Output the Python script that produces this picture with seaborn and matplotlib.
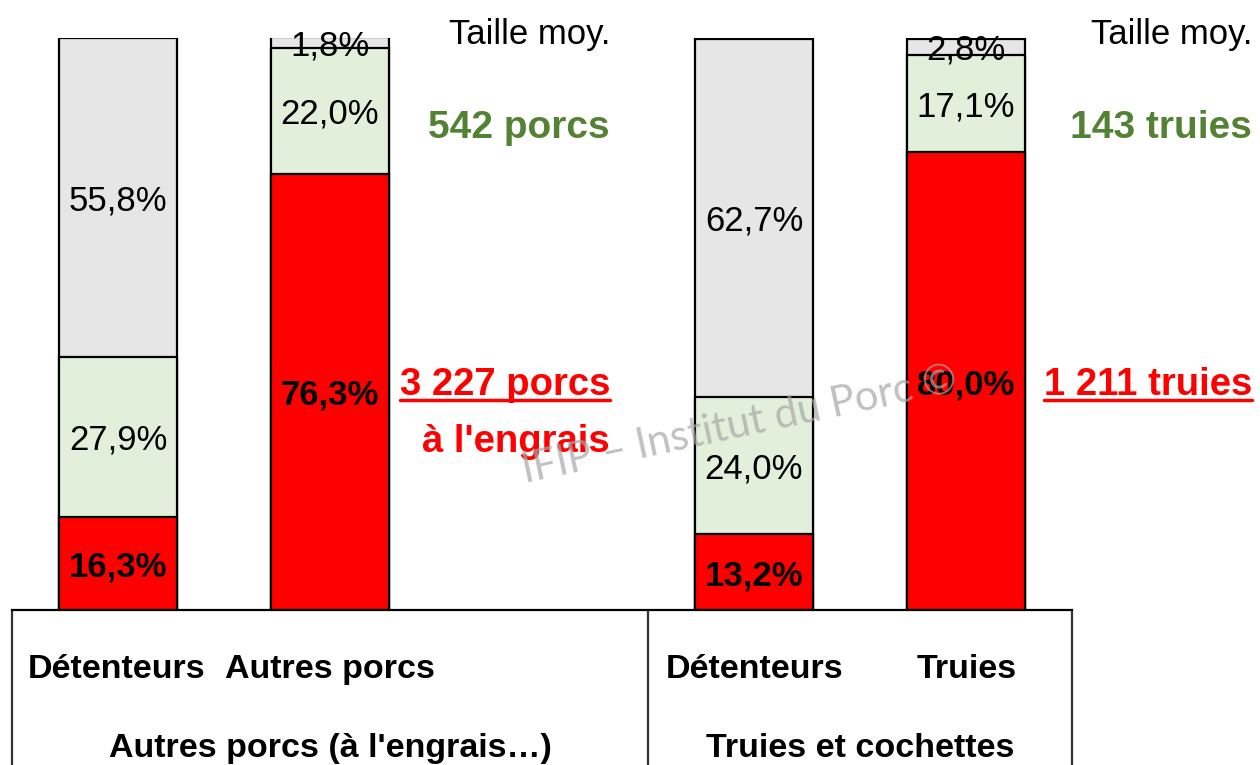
import seaborn as sns
from matplotlib import pyplot as plt
from matplotlib.lines import Line2D
import pandas as pd
import numpy as np

# data
categories = ["Détenteurs", "Autres porcs", "Détenteurs", "Truies"]
groups = ["Autres porcs (à l'engrais…)", "Truies et cochettes"]
positions = [0, 1, 3, 4]
red_share = [16.3, 76.3, 13.2, 80.0]
green_share = [27.9, 22.0, 24.0, 17.1]
grey_share = [55.8, 1.8, 62.7, 2.8]

avg_label = "Taille moy."
avg_size = ["542 porcs", "143 truies"]
total_size = ["3 227 porcs\nà l'engrais", "1 211 truies"]

RED = "#FF0000"
GREEN = "#E2EFDA"
GREY = "#E6E6E6"
TXT_GREEN = "#548235"


def fmt(v):
    return f"{v:.1f}%".replace(".", ",")


def main():
    sns.set_theme(style="white")
    plt.rcParams["font.family"] = ["Liberation Sans", "DejaVu Sans"]
    plt.rcParams["text.color"] = "black"

    fig = plt.figure(figsize=(12.6, 7.65), dpi=100)
    ax = fig.add_axes([12 / 1260, 155 / 765, 1060 / 1260, 572 / 765])

    df = pd.DataFrame({"pos": positions, "red": red_share, "green": green_share, "grey": grey_share})
    df["top_green"] = df["red"] + df["green"]
    df["top_grey"] = df["top_green"] + df["grey"]

    # stacked bars drawn back to front
    for col, colr in [("top_grey", GREY), ("top_green", GREEN), ("red", RED)]:
        sns.barplot(data=df, x="pos", y=col, native_scale=True, color=colr, saturation=1,
                    edgecolor="black", linewidth=1.6, width=0.555, errorbar=None, ax=ax)

    ax.set_xlim(-0.5, 4.5)
    ax.set_ylim(0, 100)
    ax.set_xlabel("")
    ax.set_ylabel("")
    ax.set_xticks([])
    ax.set_yticks([])
    for s in ["top", "right", "left"]:
        ax.spines[s].set_visible(False)
    ax.spines["bottom"].set_color("black")
    ax.spines["bottom"].set_linewidth(1.6)

    # segment labels
    fs = 25
    for i, p in enumerate(positions):
        r, g, gr = red_share[i], green_share[i], grey_share[i]
        ax.text(p, r / 2, fmt(r), ha="center", va="center_baseline", fontsize=fs, fontweight="bold")
        ax.text(p, r + g / 2, fmt(g), ha="center", va="center_baseline", fontsize=fs)
        ax.text(p, r + g + gr / 2, fmt(gr), ha="center", va="center_baseline", fontsize=fs)

    # category table below
    trans = ax.get_xaxis_transform()
    for xv in [-0.5, 2.5, 4.5]:
        ax.add_line(Line2D([xv, xv], [0, -0.3], transform=trans, color="#333333",
                           linewidth=1.6, clip_on=False))
    for p, c in zip(positions, categories):
        fig.text((117 + p * 212.5) / 1260, 1 - 678 / 765, c, ha="center", va="baseline",
                 fontsize=24.5, fontweight="bold")
    fig.text(330 / 1260, 1 - 757 / 765, groups[0], ha="center", va="baseline",
             fontsize=24.5, fontweight="bold")
    fig.text(860 / 1260, 1 - 757 / 765, groups[1], ha="center", va="baseline",
             fontsize=24.5, fontweight="bold")

    # side notes
    for xr, avg, tot in [(610, avg_size[0], total_size[0]), (1252, avg_size[1], total_size[1])]:
        fig.text(xr / 1260, 1 - 44 / 765, avg_label, ha="right", va="baseline", fontsize=25)
        fig.text(xr / 1260, 1 - 138 / 765, avg, ha="right", va="baseline", fontsize=28,
                 fontweight="bold", color=TXT_GREEN)
        lines = tot.split("\n")
        t = fig.text(xr / 1260, 1 - 395 / 765, lines[0], ha="right", va="baseline", fontsize=27.5,
                     fontweight="bold", color=RED)
        if len(lines) > 1:
            fig.text(xr / 1260, 1 - 452 / 765, lines[1], ha="right", va="baseline", fontsize=27.5,
                     fontweight="bold", color=RED)
        fig.canvas.draw()
        bb = t.get_window_extent()
        yline = 1 - 400 / 765
        fig.add_artist(Line2D([bb.x0 / 1260, bb.x1 / 1260], [yline, yline], color=RED,
                              linewidth=2.5))

    # watermark
    fig.text(740 / 1260, 1 - 425 / 765, "IFIP – Institut du Porc ©", ha="center", va="center",
             rotation=12, fontsize=30, color="#A6A6A6", alpha=0.7, family="Lato")

    fig.savefig("out.png", dpi=100)


if __name__ == "__main__":
    main()
